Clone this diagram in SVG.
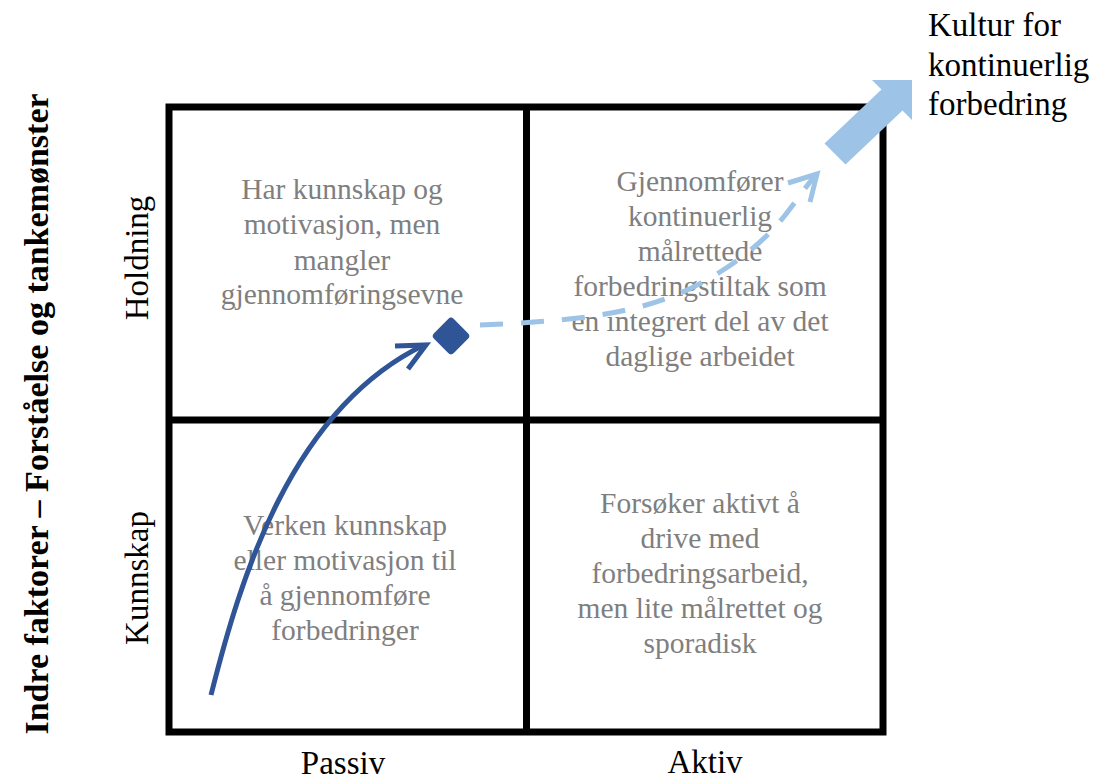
<svg xmlns="http://www.w3.org/2000/svg" width="1096" height="780" viewBox="0 0 1096 780">
<style>
.q{font-family:"Liberation Serif","Times New Roman",serif;font-size:29.5px;fill:#7f7f7f;text-anchor:middle}
.lbl{font-family:"Liberation Serif","Times New Roman",serif;font-size:33px;fill:#000}
.mid{text-anchor:middle}
.title{font-family:"Liberation Serif","Times New Roman",serif;font-size:34px;font-weight:bold;fill:#000;text-anchor:middle}
.grid{stroke:#000;stroke-width:7;fill:none}
</style>
<rect width="1096" height="780" fill="#fff"/>
<g id="grid">
<rect class="grid" x="169" y="107" width="714" height="625"/>
<line class="grid" x1="526.5" y1="107" x2="526.5" y2="732"/>
<line class="grid" x1="169" y1="420" x2="883" y2="420"/>
</g>
<g id="q-holdning-passiv">
<text class="q" x="342" y="199">Har kunnskap og</text>
<text class="q" x="342" y="234">motivasjon, men</text>
<text class="q" x="342" y="270">mangler</text>
<text class="q" x="342" y="304">gjennomføringsevne</text>
</g>
<g id="q-holdning-aktiv">
<text class="q" x="700" y="191">Gjennomfører</text>
<text class="q" x="700" y="226">kontinuerlig</text>
<text class="q" x="700" y="261">målrettede</text>
<text class="q" x="700" y="296">forbedringstiltak som</text>
<text class="q" x="700" y="331">en integrert del av det</text>
<text class="q" x="700" y="366">daglige arbeidet</text>
</g>
<g id="q-kunnskap-passiv">
<text class="q" x="345" y="535">Verken kunnskap</text>
<text class="q" x="345" y="570">eller motivasjon til</text>
<text class="q" x="345" y="605">å gjennomføre</text>
<text class="q" x="345" y="640">forbedringer</text>
</g>
<g id="q-kunnskap-aktiv">
<text class="q" x="700" y="513">Forsøker aktivt å</text>
<text class="q" x="700" y="548">drive med</text>
<text class="q" x="700" y="583">forbedringsarbeid,</text>
<text class="q" x="700" y="618">men lite målrettet og</text>
<text class="q" x="700" y="653">sporadisk</text>
</g>
<g id="labels">
<text class="lbl mid" x="343" y="774">Passiv</text>
<text class="lbl mid" x="705" y="773">Aktiv</text>
<text class="lbl mid" transform="translate(148,258) rotate(-90)">Holdning</text>
<text class="lbl mid" transform="translate(148,578) rotate(-90)">Kunnskap</text>
<text class="title" transform="translate(48,414) rotate(-90)">Indre faktorer – Forståelse og tankemønster</text>
<text class="lbl" x="928" y="36">Kultur for</text>
<text class="lbl" x="928" y="76">kontinuerlig</text>
<text class="lbl" x="928" y="115">forbedring</text>
</g>
<g id="connectors">
<path d="M211,695 C240,580 290,410 424,345" fill="none" stroke="#2f5597" stroke-width="5" stroke-linecap="butt"/>
<polyline points="395,346 426,345 408,369" fill="none" stroke="#2f5597" stroke-width="5" stroke-linejoin="miter"/>
<path d="M480,325 C600,320 660,310 720,272 S790,205 815,176" fill="none" stroke="#9dc3e6" stroke-width="5" stroke-dasharray="23 18"/>
<polyline points="788,183 817,174 810,202" fill="none" stroke="#9dc3e6" stroke-width="5" stroke-linejoin="miter"/>
</g>
<g id="node-diamond">
<rect x="437" y="322" width="28" height="28" rx="4" fill="#2f5597" transform="rotate(45 451 336)"/>
</g>
<g id="node-culture-arrow">
<polygon points="912,80 912,120 902.5,110.5 845.5,164.5 824.5,143.5 881.5,89.5 872,80" fill="#9dc3e6"/>
</g>
</svg>
